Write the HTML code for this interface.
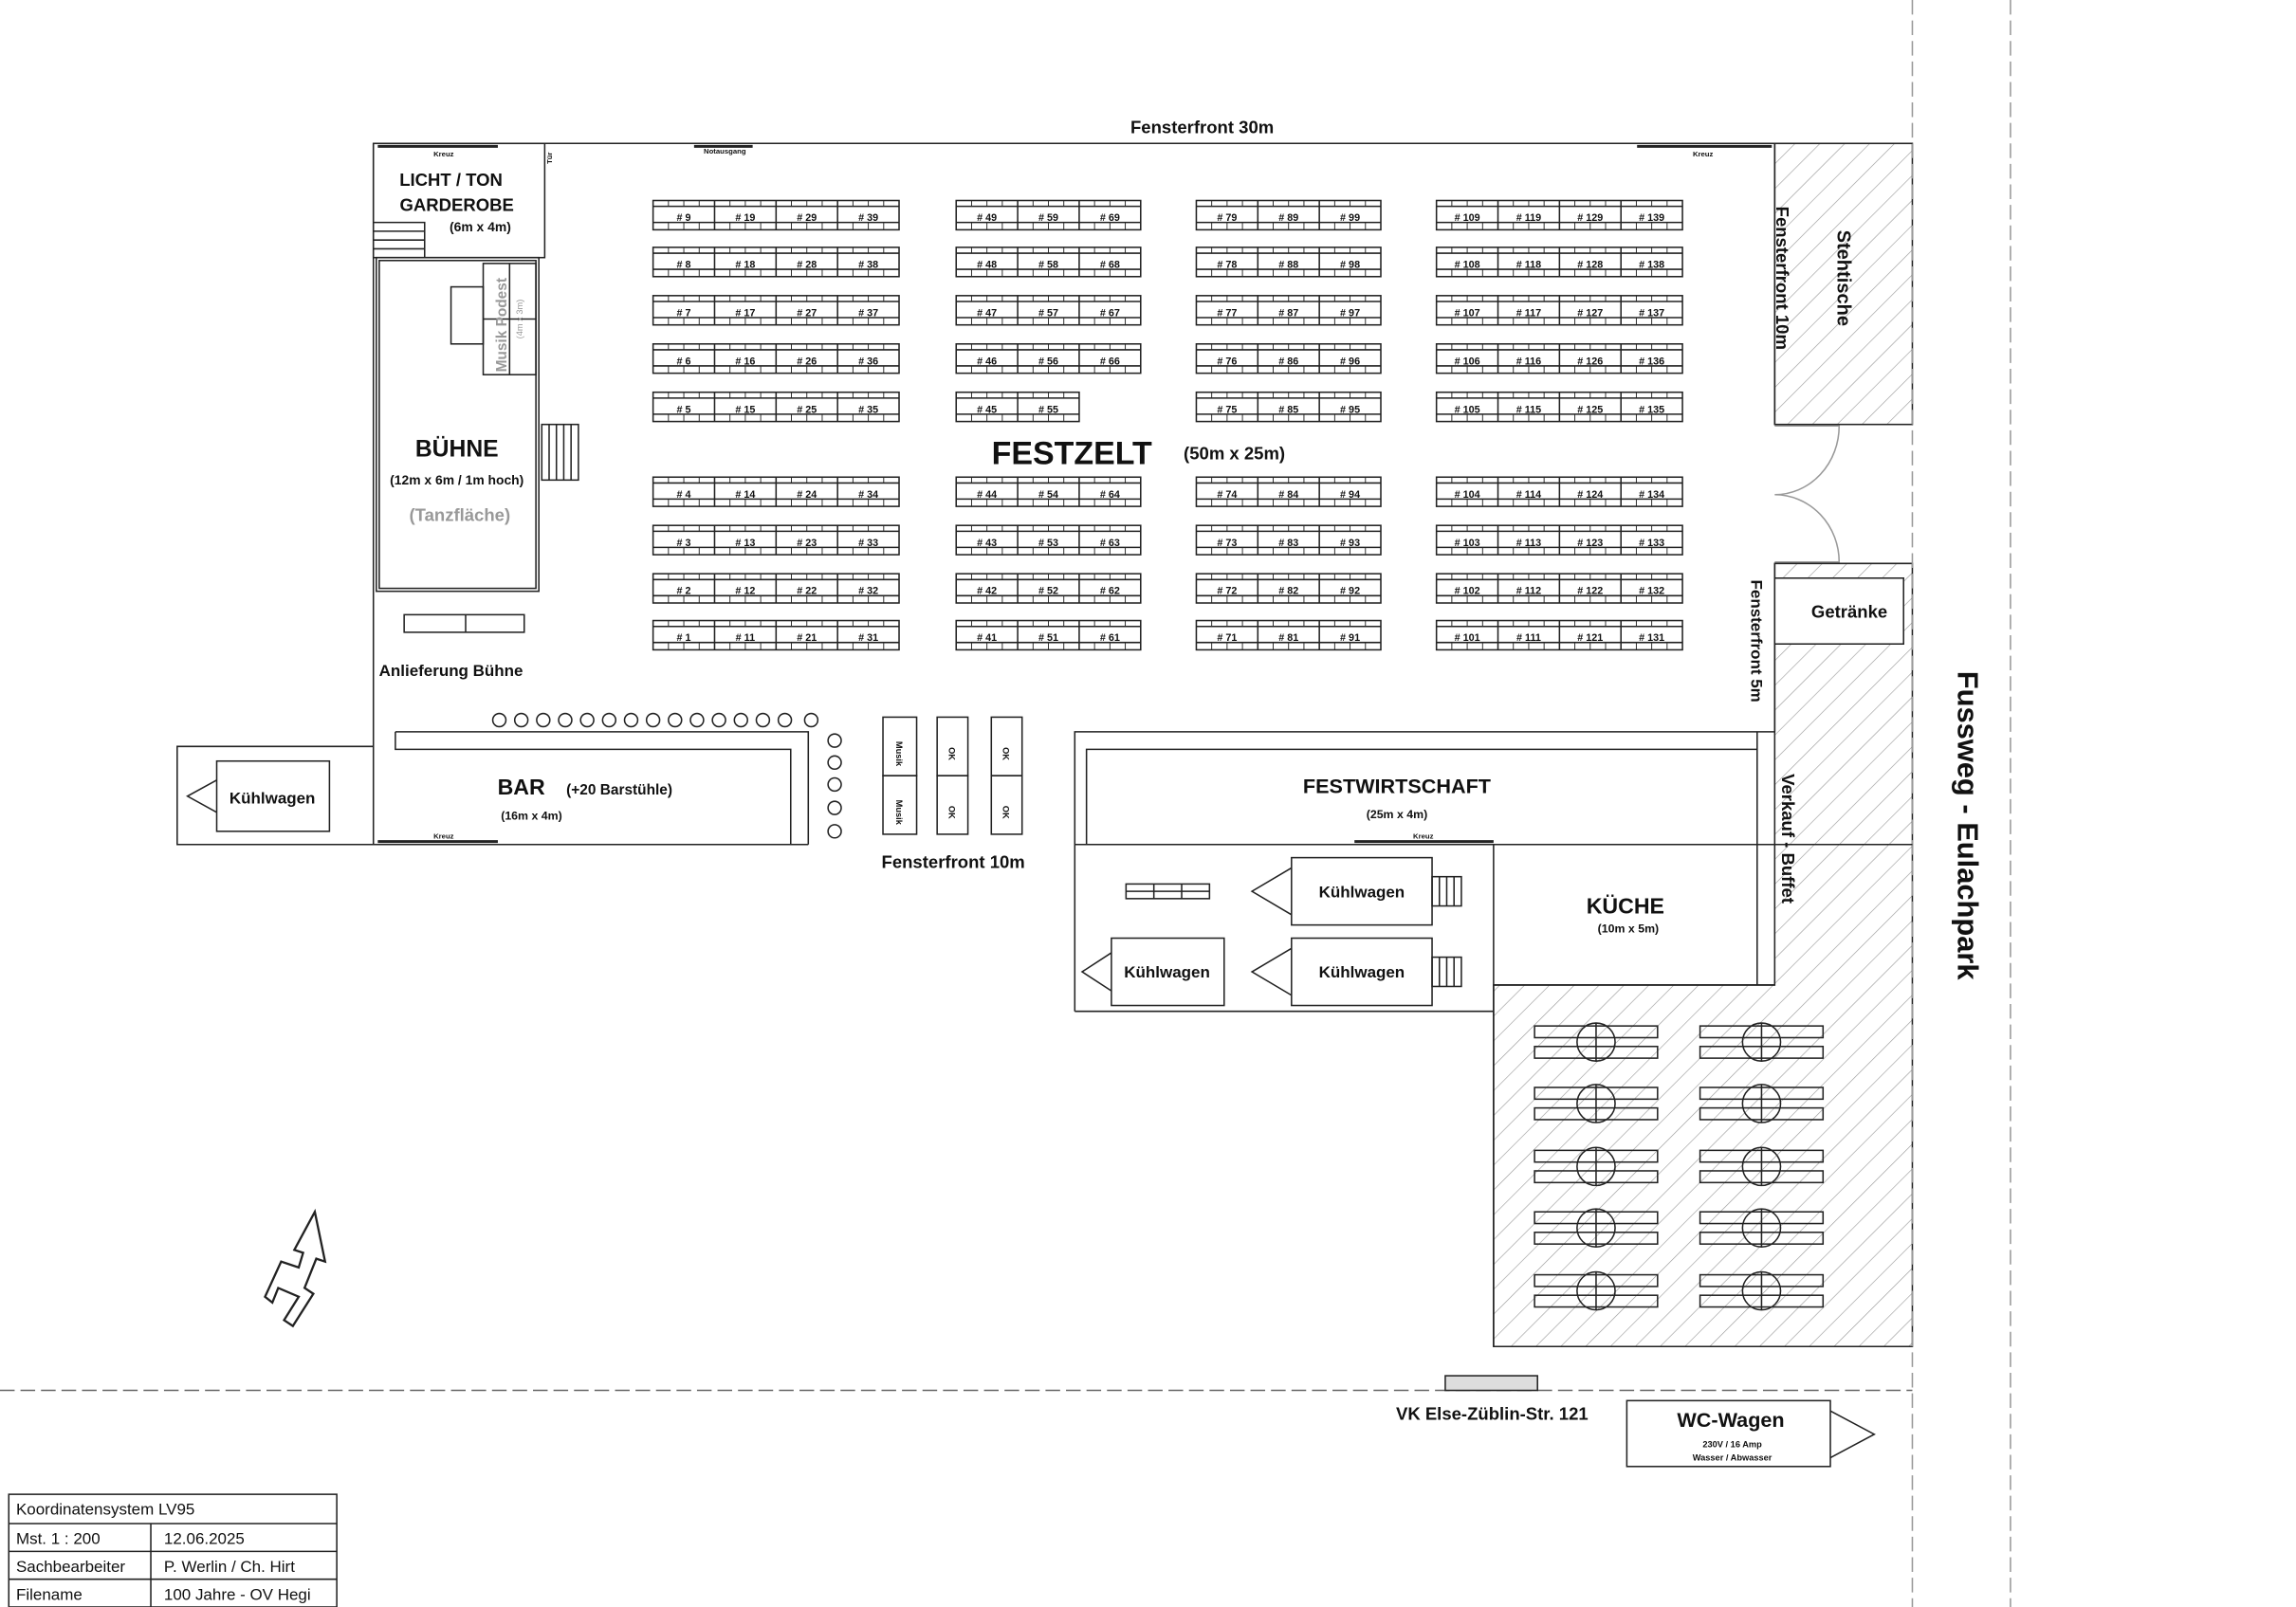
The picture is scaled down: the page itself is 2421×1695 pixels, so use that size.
<!DOCTYPE html>
<html><head><meta charset="utf-8"><style>
html,body{margin:0;padding:0;background:#fff}
svg{display:block}
text{font-family:"Liberation Sans",sans-serif;font-weight:bold;fill:#111}
.t{font-size:7px;text-anchor:middle}
.l{fill:none;stroke:#222;stroke-width:1}
</style></head><body>
<svg width="2421" height="1695" viewBox="0 0 1568 1098" preserveAspectRatio="none" xmlns="http://www.w3.org/2000/svg">
<defs>
<pattern id="h" width="12" height="12" patternUnits="userSpaceOnUse" patternTransform="rotate(45)"><line x1="0" y1="0" x2="0" y2="12" stroke="#999" stroke-width="0.8"/></pattern>
<g id="row"><rect x="0" y="0" width="168" height="20" fill="#fff" stroke="#222"/><path d="M0 4H168M0 15H168M42 0V20M84 0V20M126 0V20" stroke="#222"/><path d="M10.5 0v4M21 0v4M31.5 0v4M52.5 0v4M63 0v4M73.5 0v4M94.5 0v4M105 0v4M115.5 0v4M136.5 0v4M147 0v4M157.5 0v4M10.5 15v5M21 15v5M31.5 15v5M52.5 15v5M63 15v5M73.5 15v5M94.5 15v5M105 15v5M115.5 15v5M136.5 15v5M147 15v5M157.5 15v5" stroke="#222" stroke-width="0.6"/></g>
<g id="row3"><rect x="0" y="0" width="126" height="20" fill="#fff" stroke="#222"/><path d="M0 4H126M0 15H126M42 0V20M84 0V20" stroke="#222"/><path d="M10.5 0v4M21 0v4M31.5 0v4M52.5 0v4M63 0v4M73.5 0v4M94.5 0v4M105 0v4M115.5 0v4M10.5 15v5M21 15v5M31.5 15v5M52.5 15v5M63 15v5M73.5 15v5M94.5 15v5M105 15v5M115.5 15v5" stroke="#222" stroke-width="0.6"/></g>
<g id="half"><rect x="0" y="0" width="84" height="20" fill="#fff" stroke="#222"/><path d="M0 4H84M0 15H84M42 0V20" stroke="#222"/><path d="M10.5 0v4M21 0v4M31.5 0v4M52.5 0v4M63 0v4M73.5 0v4M10.5 15v5M21 15v5M31.5 15v5M52.5 15v5M63 15v5M73.5 15v5" stroke="#222" stroke-width="0.6"/></g>
<g id="pic"><rect x="0" y="0" width="84" height="8" class="l"/><rect x="0" y="14" width="84" height="8" class="l"/><circle cx="42" cy="11" r="13" class="l"/><line x1="42" y1="-2" x2="42" y2="24" stroke="#222"/></g>
</defs>
<rect width="1568" height="1098" fill="#fff"/>
<rect x="1212" y="98" width="94" height="192" fill="url(#h)" stroke="#222"/>
<path d="M1212 385H1306V920H1020V673H1212Z" fill="url(#h)" stroke="#222"/>
<line x1="1306" y1="0" x2="1306" y2="1098" stroke="#999" stroke-dasharray="10,4"/>
<line x1="1373" y1="0" x2="1373" y2="1098" stroke="#999" stroke-dasharray="10,4"/>
<line x1="0" y1="950" x2="1306" y2="950" stroke="#666" stroke-dasharray="10,4"/>
<path d="M255 98H1306" stroke="#222"/>
<path d="M1212 98V290M1212 385V500" stroke="#222"/>
<path d="M1212 291H1256A44 47 0 0 1 1212 338M1212 384H1256A44 46 0 0 0 1212 338" fill="none" stroke="#999"/>
<path d="M255 98V577H552M255 577H121V510H255" class="l"/>
<rect x="148" y="520" width="77" height="48" class="l"/><path d="M148 533L128 544L148 555" class="l"/>
<text x="186" y="549" font-size="11" text-anchor="middle">Kühlwagen</text>
<rect x="255" y="98" width="117" height="78" class="l"/>
<path d="M255 152H290V176M255 158H290M255 164H290M255 170H290" class="l"/>
<rect x="257" y="176" width="111" height="228" class="l" stroke-width="2"/>
<rect x="259" y="178" width="107" height="224" class="l"/>
<rect x="370" y="290" width="25" height="38" class="l"/><path d="M375 290V328M380 290V328M385 290V328M390 290V328" class="l"/>
<rect x="330" y="180" width="36" height="76" class="l"/><path d="M348 180V256M330 218H366" class="l"/>
<rect x="308" y="196" width="22" height="39" class="l"/>
<text x="346" y="222" font-size="10" style="fill:#999" transform="rotate(-90 346 222)" text-anchor="middle">Musik Podest</text>
<text x="357" y="218" font-size="6" style="fill:#999;font-weight:normal" transform="rotate(-90 357 218)" text-anchor="middle">(4m x 3m)</text>
<path d="M258 100H340" stroke="#222" stroke-width="2"/><text x="303" y="107" font-size="5" text-anchor="middle">Kreuz</text>
<text x="377" y="112" font-size="5" transform="rotate(-90 377 112)">Tür</text>
<path d="M474 100H514" stroke="#222" stroke-width="2"/><text x="495" y="105" font-size="5" text-anchor="middle">Notausgang</text>
<path d="M1118 100H1210" stroke="#222" stroke-width="2"/><text x="1163" y="107" font-size="5" text-anchor="middle">Kreuz</text>
<text x="308" y="127" font-size="12" text-anchor="middle">LICHT / TON</text>
<text x="312" y="144" font-size="12" text-anchor="middle">GARDEROBE</text>
<text x="328" y="158" font-size="9" text-anchor="middle">(6m x 4m)</text>
<text x="312" y="312" font-size="16" text-anchor="middle">BÜHNE</text>
<text x="312" y="331" font-size="9" text-anchor="middle">(12m x 6m / 1m hoch)</text>
<text x="314" y="356" font-size="12" text-anchor="middle" style="fill:#999">(Tanzfläche)</text>
<rect x="276" y="420" width="82" height="12" class="l"/><line x1="318" y1="420" x2="318" y2="432" stroke="#222"/>
<text x="308" y="462" font-size="11" text-anchor="middle">Anlieferung Bühne</text>
<path d="M270 500H552V577M270 500V512H540V577" class="l"/>
<path d="M258 575H340" stroke="#222" stroke-width="2"/><text x="303" y="573" font-size="5" text-anchor="middle">Kreuz</text>
<g class="l">
<circle cx="341" cy="492" r="4.5"/><circle cx="356" cy="492" r="4.5"/><circle cx="371" cy="492" r="4.5"/><circle cx="386" cy="492" r="4.5"/><circle cx="401" cy="492" r="4.5"/><circle cx="416" cy="492" r="4.5"/><circle cx="431" cy="492" r="4.5"/><circle cx="446" cy="492" r="4.5"/><circle cx="461" cy="492" r="4.5"/><circle cx="476" cy="492" r="4.5"/><circle cx="491" cy="492" r="4.5"/><circle cx="506" cy="492" r="4.5"/><circle cx="521" cy="492" r="4.5"/><circle cx="536" cy="492" r="4.5"/><circle cx="554" cy="492" r="4.5"/>
<circle cx="570" cy="506" r="4.5"/><circle cx="570" cy="521" r="4.5"/><circle cx="570" cy="536" r="4.5"/><circle cx="570" cy="552" r="4.5"/><circle cx="570" cy="568" r="4.5"/>
</g>
<text x="356" y="543" font-size="15" text-anchor="middle">BAR</text>
<text x="423" y="543" font-size="10" text-anchor="middle">(+20 Barstühle)</text>
<text x="363" y="560" font-size="8" text-anchor="middle">(16m x 4m)</text>
<text x="651" y="593" font-size="12" text-anchor="middle">Fensterfront 10m</text>
<g class="l"><rect x="603" y="490" width="23" height="40"/><rect x="603" y="530" width="23" height="40"/><rect x="640" y="490" width="21" height="40"/><rect x="640" y="530" width="21" height="40"/><rect x="677" y="490" width="21" height="40"/><rect x="677" y="530" width="21" height="40"/></g>
<g font-size="6"><text x="617" y="510" transform="rotate(90 612 510)" text-anchor="middle">Musik</text><text x="617" y="550" transform="rotate(90 612 550)" text-anchor="middle">Musik</text>
<text x="653" y="510" transform="rotate(90 648 510)" text-anchor="middle">OK</text><text x="653" y="550" transform="rotate(90 648 550)" text-anchor="middle">OK</text>
<text x="690" y="510" transform="rotate(90 685 510)" text-anchor="middle">OK</text><text x="690" y="550" transform="rotate(90 685 550)" text-anchor="middle">OK</text></g>
<path d="M734 691V500H1212M742 577V512H1200V673M1200 500V673M1020 577V920M734 577H1306M734 691H1020M1020 673H1212" class="l"/>
<path d="M925 575H1020" stroke="#222" stroke-width="2"/><text x="972" y="573" font-size="5" text-anchor="middle">Kreuz</text>
<text x="954" y="542" font-size="14" text-anchor="middle">FESTWIRTSCHAFT</text>
<text x="954" y="559" font-size="8" text-anchor="middle">(25m x 4m)</text>
<text x="1110" y="624" font-size="15" text-anchor="middle">KÜCHE</text>
<text x="1112" y="637" font-size="8" text-anchor="middle">(10m x 5m)</text>
<rect x="769" y="604" width="57" height="10" class="l"/><path d="M788 604V614M807 604V614M769 609H826" class="l"/>
<rect x="882" y="586" width="96" height="46" class="l"/><path d="M882 593L855 609L882 625" class="l"/><rect x="978" y="599" width="20" height="20" class="l"/><path d="M983 599V619M988 599V619M993 599V619" class="l"/>
<text x="930" y="613" font-size="11" text-anchor="middle">Kühlwagen</text>
<rect x="882" y="641" width="96" height="46" class="l"/><path d="M882 648L855 664L882 680" class="l"/><rect x="978" y="654" width="20" height="20" class="l"/><path d="M983 654V674M988 654V674M993 654V674" class="l"/>
<text x="930" y="668" font-size="11" text-anchor="middle">Kühlwagen</text>
<rect x="759" y="641" width="77" height="46" class="l"/><path d="M759 651L739 664L759 677" class="l"/>
<text x="797" y="668" font-size="11" text-anchor="middle">Kühlwagen</text>
<rect x="1212" y="395" width="88" height="45" fill="#fff" stroke="#222"/>
<text x="1263" y="422" font-size="12" text-anchor="middle">Getränke</text>
<text x="1255" y="190" font-size="13" transform="rotate(90 1255 190)" text-anchor="middle">Stehtische</text>
<text x="1213" y="190" font-size="12" transform="rotate(90 1213 190)" text-anchor="middle">Fensterfront 10m</text>
<text x="1196" y="438" font-size="11" transform="rotate(90 1196 438)" text-anchor="middle">Fensterfront 5m</text>
<text x="1217" y="573" font-size="12" transform="rotate(90 1217 573)" text-anchor="middle">Verkauf - Buffet</text>
<text x="1337" y="564" font-size="20" transform="rotate(90 1337 564)" text-anchor="middle">Fussweg - Eulachpark</text>
<use href="#pic" x="1048" y="701"/><use href="#pic" x="1161" y="701"/>
<use href="#pic" x="1048" y="743"/><use href="#pic" x="1161" y="743"/>
<use href="#pic" x="1048" y="786"/><use href="#pic" x="1161" y="786"/>
<use href="#pic" x="1048" y="828"/><use href="#pic" x="1161" y="828"/>
<use href="#pic" x="1048" y="871"/><use href="#pic" x="1161" y="871"/>
<rect x="987" y="940" width="63" height="10" fill="#ddd" stroke="#222"/>
<text x="1019" y="970" font-size="12" text-anchor="middle">VK Else-Züblin-Str. 121</text>
<rect x="1111" y="957" width="139" height="45" fill="#fff" stroke="#222"/><path d="M1250 964L1280 980L1250 996" class="l"/>
<text x="1182" y="975" font-size="14" text-anchor="middle">WC-Wagen</text>
<text x="1183" y="989" font-size="6" text-anchor="middle">230V / 16 Amp</text>
<text x="1183" y="998" font-size="6" text-anchor="middle">Wasser / Abwasser</text>
<text x="821" y="91" font-size="12" text-anchor="middle">Fensterfront 30m</text>
<text x="732" y="317" font-size="22" text-anchor="middle">FESTZELT</text>
<text x="843" y="314" font-size="12" text-anchor="middle">(50m x 25m)</text>
<path d="M215 828L222 862L216 860L208 880L214 884L200 906L194 902L204 886L190 880L186 890L181 886L192 862L204 866L207 856L201 854Z" fill="#fff" stroke="#222" stroke-width="1.5"/>
<rect x="6" y="1021" width="224" height="77" class="l"/>
<path d="M6 1041H230M6 1060H230M6 1079H230M103 1041V1098" class="l"/>
<g font-size="11"><text x="11" y="1035" style="font-weight:normal">Koordinatensystem LV95</text>
<text x="11" y="1055" style="font-weight:normal">Mst.  1 : 200</text><text x="112" y="1055" style="font-weight:normal">12.06.2025</text>
<text x="11" y="1074" style="font-weight:normal">Sachbearbeiter</text><text x="112" y="1074" style="font-weight:normal">P. Werlin / Ch. Hirt</text>
<text x="11" y="1093" style="font-weight:normal">Filename</text><text x="112" y="1093" style="font-weight:normal">100 Jahre - OV Hegi</text></g>
<use href="#row" x="446" y="137"/><use href="#row3" x="653" y="137"/><use href="#row3" x="817" y="137"/><use href="#row" x="981" y="137"/>
<use href="#row" x="446" y="169"/><use href="#row3" x="653" y="169"/><use href="#row3" x="817" y="169"/><use href="#row" x="981" y="169"/>
<use href="#row" x="446" y="202"/><use href="#row3" x="653" y="202"/><use href="#row3" x="817" y="202"/><use href="#row" x="981" y="202"/>
<use href="#row" x="446" y="235"/><use href="#row3" x="653" y="235"/><use href="#row3" x="817" y="235"/><use href="#row" x="981" y="235"/>
<use href="#row" x="446" y="268"/><use href="#half" x="653" y="268"/><use href="#row3" x="817" y="268"/><use href="#row" x="981" y="268"/>
<use href="#row" x="446" y="326"/><use href="#row3" x="653" y="326"/><use href="#row3" x="817" y="326"/><use href="#row" x="981" y="326"/>
<use href="#row" x="446" y="359"/><use href="#row3" x="653" y="359"/><use href="#row3" x="817" y="359"/><use href="#row" x="981" y="359"/>
<use href="#row" x="446" y="392"/><use href="#row3" x="653" y="392"/><use href="#row3" x="817" y="392"/><use href="#row" x="981" y="392"/>
<use href="#row" x="446" y="424"/><use href="#row3" x="653" y="424"/><use href="#row3" x="817" y="424"/><use href="#row" x="981" y="424"/>
<g class="t" font-size="7">
<text x="467" y="151" class="t"># 9</text><text x="509" y="151" class="t"># 19</text><text x="551" y="151" class="t"># 29</text><text x="593" y="151" class="t"># 39</text><text x="674" y="151" class="t"># 49</text><text x="716" y="151" class="t"># 59</text><text x="758" y="151" class="t"># 69</text><text x="838" y="151" class="t"># 79</text><text x="880" y="151" class="t"># 89</text><text x="922" y="151" class="t"># 99</text><text x="1002" y="151" class="t"># 109</text><text x="1044" y="151" class="t"># 119</text><text x="1086" y="151" class="t"># 129</text><text x="1128" y="151" class="t"># 139</text>
<text x="467" y="183" class="t"># 8</text><text x="509" y="183" class="t"># 18</text><text x="551" y="183" class="t"># 28</text><text x="593" y="183" class="t"># 38</text><text x="674" y="183" class="t"># 48</text><text x="716" y="183" class="t"># 58</text><text x="758" y="183" class="t"># 68</text><text x="838" y="183" class="t"># 78</text><text x="880" y="183" class="t"># 88</text><text x="922" y="183" class="t"># 98</text><text x="1002" y="183" class="t"># 108</text><text x="1044" y="183" class="t"># 118</text><text x="1086" y="183" class="t"># 128</text><text x="1128" y="183" class="t"># 138</text>
<text x="467" y="216" class="t"># 7</text><text x="509" y="216" class="t"># 17</text><text x="551" y="216" class="t"># 27</text><text x="593" y="216" class="t"># 37</text><text x="674" y="216" class="t"># 47</text><text x="716" y="216" class="t"># 57</text><text x="758" y="216" class="t"># 67</text><text x="838" y="216" class="t"># 77</text><text x="880" y="216" class="t"># 87</text><text x="922" y="216" class="t"># 97</text><text x="1002" y="216" class="t"># 107</text><text x="1044" y="216" class="t"># 117</text><text x="1086" y="216" class="t"># 127</text><text x="1128" y="216" class="t"># 137</text>
<text x="467" y="249" class="t"># 6</text><text x="509" y="249" class="t"># 16</text><text x="551" y="249" class="t"># 26</text><text x="593" y="249" class="t"># 36</text><text x="674" y="249" class="t"># 46</text><text x="716" y="249" class="t"># 56</text><text x="758" y="249" class="t"># 66</text><text x="838" y="249" class="t"># 76</text><text x="880" y="249" class="t"># 86</text><text x="922" y="249" class="t"># 96</text><text x="1002" y="249" class="t"># 106</text><text x="1044" y="249" class="t"># 116</text><text x="1086" y="249" class="t"># 126</text><text x="1128" y="249" class="t"># 136</text>
<text x="467" y="282" class="t"># 5</text><text x="509" y="282" class="t"># 15</text><text x="551" y="282" class="t"># 25</text><text x="593" y="282" class="t"># 35</text><text x="674" y="282" class="t"># 45</text><text x="716" y="282" class="t"># 55</text><text x="838" y="282" class="t"># 75</text><text x="880" y="282" class="t"># 85</text><text x="922" y="282" class="t"># 95</text><text x="1002" y="282" class="t"># 105</text><text x="1044" y="282" class="t"># 115</text><text x="1086" y="282" class="t"># 125</text><text x="1128" y="282" class="t"># 135</text>
<text x="467" y="340" class="t"># 4</text><text x="509" y="340" class="t"># 14</text><text x="551" y="340" class="t"># 24</text><text x="593" y="340" class="t"># 34</text><text x="674" y="340" class="t"># 44</text><text x="716" y="340" class="t"># 54</text><text x="758" y="340" class="t"># 64</text><text x="838" y="340" class="t"># 74</text><text x="880" y="340" class="t"># 84</text><text x="922" y="340" class="t"># 94</text><text x="1002" y="340" class="t"># 104</text><text x="1044" y="340" class="t"># 114</text><text x="1086" y="340" class="t"># 124</text><text x="1128" y="340" class="t"># 134</text>
<text x="467" y="373" class="t"># 3</text><text x="509" y="373" class="t"># 13</text><text x="551" y="373" class="t"># 23</text><text x="593" y="373" class="t"># 33</text><text x="674" y="373" class="t"># 43</text><text x="716" y="373" class="t"># 53</text><text x="758" y="373" class="t"># 63</text><text x="838" y="373" class="t"># 73</text><text x="880" y="373" class="t"># 83</text><text x="922" y="373" class="t"># 93</text><text x="1002" y="373" class="t"># 103</text><text x="1044" y="373" class="t"># 113</text><text x="1086" y="373" class="t"># 123</text><text x="1128" y="373" class="t"># 133</text>
<text x="467" y="406" class="t"># 2</text><text x="509" y="406" class="t"># 12</text><text x="551" y="406" class="t"># 22</text><text x="593" y="406" class="t"># 32</text><text x="674" y="406" class="t"># 42</text><text x="716" y="406" class="t"># 52</text><text x="758" y="406" class="t"># 62</text><text x="838" y="406" class="t"># 72</text><text x="880" y="406" class="t"># 82</text><text x="922" y="406" class="t"># 92</text><text x="1002" y="406" class="t"># 102</text><text x="1044" y="406" class="t"># 112</text><text x="1086" y="406" class="t"># 122</text><text x="1128" y="406" class="t"># 132</text>
<text x="467" y="438" class="t"># 1</text><text x="509" y="438" class="t"># 11</text><text x="551" y="438" class="t"># 21</text><text x="593" y="438" class="t"># 31</text><text x="674" y="438" class="t"># 41</text><text x="716" y="438" class="t"># 51</text><text x="758" y="438" class="t"># 61</text><text x="838" y="438" class="t"># 71</text><text x="880" y="438" class="t"># 81</text><text x="922" y="438" class="t"># 91</text><text x="1002" y="438" class="t"># 101</text><text x="1044" y="438" class="t"># 111</text><text x="1086" y="438" class="t"># 121</text><text x="1128" y="438" class="t"># 131</text>
</g>
</svg>
</body></html>
